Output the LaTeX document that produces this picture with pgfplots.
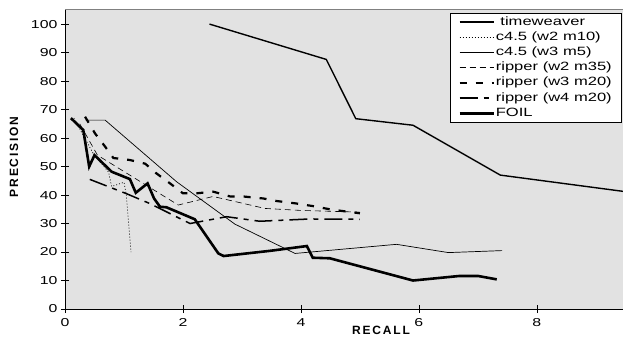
\documentclass[border=0pt]{standalone}
\usepackage{fontspec}
\setmainfont{Liberation Sans}
\newfontfamily\widefont{Liberation Sans}[FakeStretch=1.38]
\newfontfamily\lsfont{Liberation Sans}[LetterSpace=15]
\usepackage{pgfplots}
\pgfplotsset{compat=1.18}
\definecolor{bg}{RGB}{226,226,226}
\begin{document}
\begin{tikzpicture}
\useasboundingbox (-65pt,-32pt) rectangle (558pt,309pt);
\begin{axis}[
  at={(0pt,0pt)}, anchor=south west,
  scale only axis, width=558pt, height=300pt,
  xmin=0, xmax=9.46, ymin=0, ymax=105.3,
  axis x line*=bottom, axis y line*=left,
  axis background/.style={fill=bg},
  xtick={0,2,4,6,8}, ytick={0,10,...,100},
  tick align=center, major tick length=8pt,
  tick style={black, line width=0.6pt},
  axis line style={black, line width=0.8pt},
  /pgf/number format/assume math mode=true,
  tick label style={font=\widefont\fontsize{11.5}{13}\selectfont},
  xticklabel style={yshift=-2pt},
  legend style={at={(rel axis cs:0.9964,0.9867)}, anchor=north east,
    draw=black, fill=white,
    font=\widefont\fontsize{12}{14}\selectfont,
    row sep=2.2pt, inner xsep=8pt, inner ysep=2.5pt,
    nodes={inner sep=1pt, text height=8.5pt, text depth=2.5pt},
    cells={anchor=west}},
  legend image code/.code={\draw[#1] (0pt,0pt) -- (34pt,0pt);},
  clip=true,
]
\addplot[black, line width=1.4pt] coordinates {
 (2.45,100) (4.43,87.6) (4.93,66.8) (5.9,64.5) (7.38,47) (9.46,41.3)};
\addlegendentry{\ timeweaver}
\addplot[black, line width=0.7pt, dash pattern=on 1pt off 2pt] coordinates {
 (0.15,67) (0.48,54.5) (0.74,48) (0.79,43) (1.0,44.5) (1.04,40) (1.12,20)};
\addlegendentry{c4.5 (w2 m10)}
\addplot[black, line width=0.7pt] coordinates {
 (0.35,66.3) (0.68,66.3) (1.89,44.7) (2.88,29.8) (3.9,19.5) (5.62,22.7) (6.5,19.8) (7.41,20.5)};
\addlegendentry{c4.5 (w3 m5)}
\addplot[black, line width=0.6pt, dash pattern=on 6pt off 4pt] coordinates {
 (0.25,65) (0.55,54) (1.92,36.5) (2.51,39.5) (3.39,35.3) (4.0,34.6) (5.0,34)};
\addlegendentry{ripper (w2 m35)}
\addplot[black, line width=2.2pt, dash pattern=on 7pt off 9pt] coordinates {
 (0.34,67.5) (0.51,61.6) (0.68,57) (0.82,53) (1.1,52.3) (1.36,51) (1.55,47.6) (1.78,44.1) (2.0,40.6) (2.23,40.6) (2.51,41.2) (2.8,39.5) (3.02,39.5) (3.36,38.8) (3.59,37.9) (3.9,37.1) (4.21,36.1) (4.49,35) (4.77,34.2) (5.0,33.6)};
\addlegendentry{ripper (w3 m20)}
\addplot[black, line width=1.5pt, dash pattern=on 18pt off 6pt on 5pt off 6pt] coordinates {
 (0.42,45.5) (1.04,40.5) (1.44,37) (2.12,30) (2.74,32.4) (3.3,30.8) (4.15,31.6) (5.0,31.5)};
\addlegendentry{ripper (w4 m20)}
\addplot[black, line width=2.6pt] coordinates {
 (0.1,67) (0.31,62.8) (0.41,50) (0.5,54) (0.79,48.2) (1.1,45.6) (1.2,40.8) (1.4,44.1) (1.51,38.8) (1.61,35.9) (1.72,35.7) (2.2,31.5) (2.6,19.5) (2.69,18.6) (3.47,20.4) (4.1,22.1) (4.2,18) (4.49,17.8) (5.9,10) (6.69,11.6) (7.0,11.6) (7.32,10.4)};
\addlegendentry{FOIL}
\end{axis}
\draw[gray, line width=0.8pt] (0pt,300pt) -- (558pt,300pt);
\node[rotate=90, font=\lsfont\bfseries\fontsize{12}{14}\selectfont] at (-51pt,152pt) {PRECISION};
\node[font=\lsfont\bfseries\fontsize{12}{14}\selectfont] at (316pt,-21pt) {RECALL};
\end{tikzpicture}
\end{document}
